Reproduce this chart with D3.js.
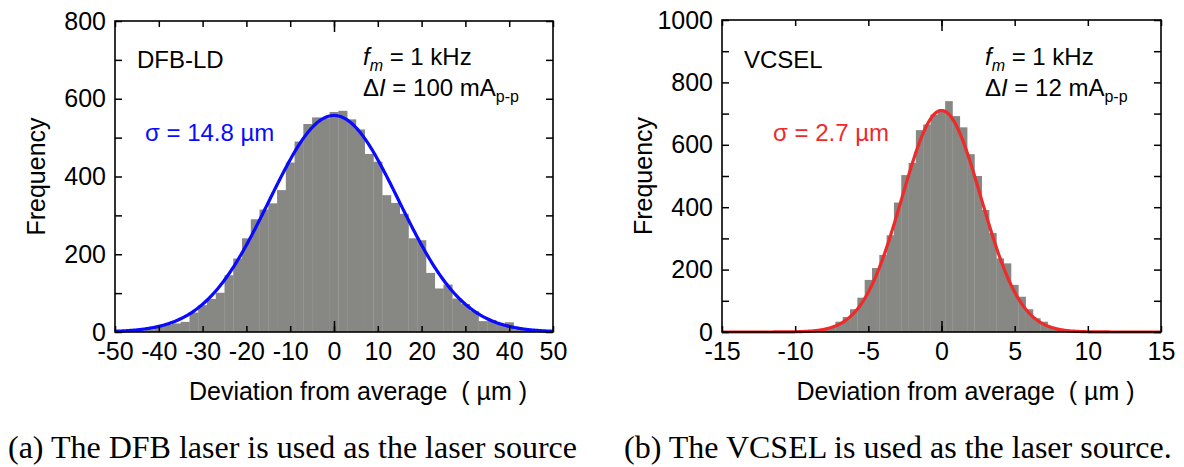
<!DOCTYPE html>
<html>
<head>
<meta charset="utf-8">
<script src="https://cdn.jsdelivr.net/npm/d3@7"></script>
<style>
body { margin: 0; background: #fff; }
svg { display: block; font-family: "Liberation Sans", Arial, sans-serif; }
</style>
</head>
<body>
<svg></svg>
<script>
let width = 1184, height = 467;

// (a) DFB-LD histogram: bin centres (um) and counts
const dfbBins = [-48,-46,-44,-42,-40,-38,-36,-34,-32,-30,-28,-26,-24,-22,-20,-18,-16,-14,-12,-10,-8,-6,-4,-2,
    0,2,4,6,8,10,12,14,16,18,20,22,24,26,28,30,32,34,36,38,40,42,44,46,48];
const dfbCounts = [1,2,4,7,14,18,22,26,50,69,85,101,146,189,241,290,315,331,365,436,490,535,552,550,
    566,569,547,521,458,438,352,332,304,241,236,152,112,122,86,72,54,28,31,21,25,7,6,4,2];
const dfbFit = {sigma: 14.8, peak: 557, mean: 0};
const dfbXTicks = [-50,-40,-30,-20,-10,0,10,20,30,40,50];
const dfbYTicks = [0,100,200,300,400,500,600,700,800];

// (b) VCSEL histogram
const vcselBins = [-8.5,-8,-7.5,-7,-6.5,-6,-5.5,-5,-4.5,-4,-3.5,-3,-2.5,-2,-1.5,-1,-0.5,
    0,0.5,1,1.5,2,2.5,3,3.5,4,4.5,5,5.5,6,6.5,7,7.5,8,8.5];
const vcselCounts = [3,6,15,33,48,73,110,167,205,247,310,415,503,542,647,665,697,
    712,740,692,656,570,500,391,317,236,220,151,113,73,44,33,17,9,4];
const vcselFit = {sigma: 2.7, peak: 710, mean: 0};
const vcselXTicks = [-15,-10,-5,0,5,10,15];
const vcselYTicks = [0,100,200,300,400,500,600,700,800,900,1000];

let svg = d3.select("svg")
    .attr("width", width)
    .attr("height", height)

svg.append("rect").attr("width", width).attr("height", height).attr("fill", "#fff")

function rich(g, x, y, parts, color) {
    let t = g.append("text")
        .attr("x", x).attr("y", y)
        .attr("fill", color || "#000")
        .style("font-size", "24px")
    let shift = 0;
    parts.forEach(p => {
        let dy = (p.sub ? 6 : 0) - shift;
        shift = p.sub ? 6 : 0;
        t.append("tspan")
            .attr("dy", dy)
            .style("font-style", p.i ? "italic" : "normal")
            .style("font-size", p.sub ? "16px" : "24px")
            .text(p.t)
    })
}

function panel(o) {
    let x = d3.scaleLinear().domain(o.xDomain).range([o.left, o.right]);
    let y = d3.scaleLinear().domain(o.yDomain).range([o.bottom, o.top]);
    let g = svg.append("g");

    // histogram bars
    g.append("g")
        .selectAll("rect")
        .data(o.bins)
        .enter()
        .append("rect")
        .attr("x", d => x(d - o.binWidth / 2))
        .attr("width", x(o.binWidth) - x(0) + 0.3)
        .attr("y", (d, i) => y(o.counts[i]))
        .attr("height", (d, i) => y(0) - y(o.counts[i]))
        .attr("fill", "#878884")

    // gaussian fit
    let xs = d3.range(o.xDomain[0], o.xDomain[1] + 1e-9, (o.xDomain[1] - o.xDomain[0]) / 400);
    let line = d3.line()
        .x(d => x(d))
        .y(d => y(o.fit.peak * Math.exp(-((d - o.fit.mean) ** 2) / (2 * o.fit.sigma * o.fit.sigma))));
    g.append("path")
        .datum(xs)
        .attr("d", line)
        .attr("fill", "none")
        .attr("stroke", o.color)
        .attr("stroke-width", 3.2)

    // axes, ticks pointing inward
    g.append("g").attr("transform", "translate(0," + o.bottom + ")")
        .call(d3.axisBottom(x).tickValues(o.xTicks).tickSize(-6).tickSizeOuter(0).tickPadding(10)
            .tickFormat(d => String(d)));
    g.append("g").attr("transform", "translate(0," + o.bottom + ")")
        .call(d3.axisBottom(x).tickValues([0]).tickSize(-11).tickFormat(""));
    g.append("g").attr("transform", "translate(0," + o.top + ")")
        .call(d3.axisTop(x).tickValues(o.xTicks).tickSize(-6).tickSizeOuter(0).tickFormat(""));
    g.append("g").attr("transform", "translate(0," + o.top + ")")
        .call(d3.axisTop(x).tickValues([0]).tickSize(-11).tickFormat(""));
    g.append("g").attr("transform", "translate(" + o.left + ",0)")
        .call(d3.axisLeft(y).tickValues(o.yTicks).tickSize(-7).tickSizeOuter(0).tickPadding(9)
            .tickFormat(d => d % 200 === 0 ? String(d) : ""));
    g.append("g").attr("transform", "translate(" + o.right + ",0)")
        .call(d3.axisRight(y).tickValues(o.yTicks).tickSize(-7).tickSizeOuter(0).tickFormat(""));

    g.selectAll(".domain").remove();
    g.selectAll(".tick line").attr("stroke", "#000").attr("stroke-width", 1.5);
    g.selectAll(".tick text").style("font-size", "25px").attr("fill", "#000")
        .style("font-family", "'Liberation Sans', Arial, sans-serif");

    g.append("rect")
        .attr("x", o.left).attr("y", o.top)
        .attr("width", o.right - o.left).attr("height", o.bottom - o.top)
        .attr("fill", "none").attr("stroke", "#000").attr("stroke-width", 1.6)

    // axis titles
    g.append("text")
        .attr("x", (o.left + o.right) / 2 + 24).attr("y", o.bottom + 68)
        .attr("text-anchor", "middle")
        .style("font-size", "25px")
        .text("Deviation from average\u00a0\u00a0( µm )")
    g.append("text")
        .attr("transform", "translate(" + (o.left - 70) + "," + ((o.top + o.bottom) / 2) + ") rotate(-90)")
        .attr("text-anchor", "middle")
        .style("font-size", "25px")
        .text("Frequency")

    // labels inside
    g.append("text").attr("x", o.left + 22).attr("y", 68).style("font-size", "24px").text(o.name)
    rich(g, o.infoX, 65, [{t: "f", i: true}, {t: "m", i: true, sub: true}, {t: " = 1 kHz"}]);
    rich(g, o.infoX, 96, [{t: "Δ"}, {t: "I", i: true}, {t: " = " + o.current + " mA"}, {t: "p-p", sub: true}]);
    g.append("text").attr("x", o.sigmaX).attr("y", 141)
        .attr("fill", o.color).style("font-size", "24px")
        .text("σ = " + o.fit.sigma + " µm")

    // caption
    g.append("text")
        .attr("x", o.capX).attr("y", 458)
        .style("font-family", "'Liberation Serif', 'Times New Roman', serif")
        .style("font-size", "32px")
        .text(o.caption)
}

panel({
    left: 115, right: 553, top: 21, bottom: 332,
    xDomain: [-50, 50], yDomain: [0, 800],
    bins: dfbBins, counts: dfbCounts, binWidth: 2, fit: dfbFit,
    xTicks: dfbXTicks, yTicks: dfbYTicks, color: "#0a0aff",
    name: "DFB-LD", current: "100", infoX: 363, sigmaX: 145,
    caption: "(a) The DFB laser is used as the laser source", capX: 8
});

panel({
    left: 722, right: 1161, top: 20, bottom: 332,
    xDomain: [-15, 15], yDomain: [0, 1000],
    bins: vcselBins, counts: vcselCounts, binWidth: 0.5, fit: vcselFit,
    xTicks: vcselXTicks, yTicks: vcselYTicks, color: "#ee2a2a",
    name: "VCSEL", current: "12", infoX: 985, sigmaX: 773,
    caption: "(b) The VCSEL is used as the laser source.", capX: 624
});
</script>
</body>
</html>
